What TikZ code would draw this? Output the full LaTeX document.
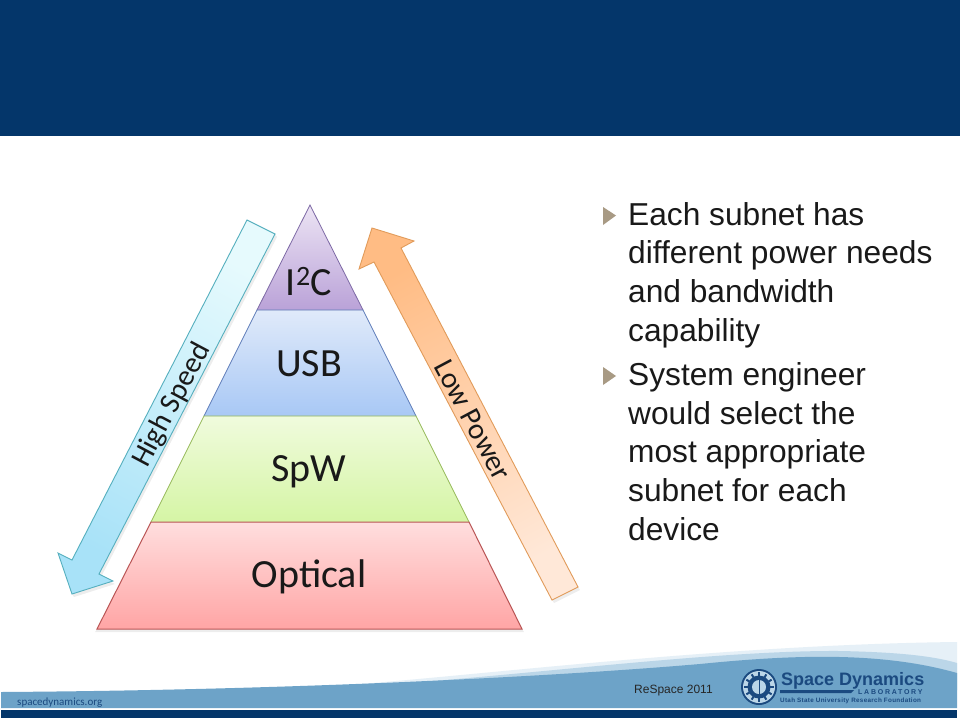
\documentclass[tikz,border=0pt]{standalone}
\usepackage{fontspec}
\setmainfont{Liberation Sans}
\newfontfamily\calib{Carlito}
\definecolor{navy}{HTML}{04366A}
\definecolor{midblue}{HTML}{6DA3C8}
\definecolor{logoblue}{HTML}{1B4A80}
\definecolor{tribull}{HTML}{A89A84}
\definecolor{wavea}{HTML}{E6F0F7}
\definecolor{waveb}{HTML}{BBD6E8}
\definecolor{redtop}{HTML}{FFDEDE}
\definecolor{redbot}{HTML}{FFA5A5}
\definecolor{redline}{HTML}{B95555}
\definecolor{greentop}{HTML}{F0FBDD}
\definecolor{greenbot}{HTML}{D5F5A5}
\definecolor{greenline}{HTML}{96B95A}
\definecolor{bluetop}{HTML}{E0EAFA}
\definecolor{bluebot}{HTML}{A8C8F5}
\definecolor{blueline}{HTML}{5F7DB9}
\definecolor{purptop}{HTML}{ECE4F4}
\definecolor{purpbot}{HTML}{BAA2D8}
\definecolor{purpline}{HTML}{7D69A5}
\definecolor{cyantop}{HTML}{E6FAFD}
\definecolor{cyanbot}{HTML}{A8E2F8}
\definecolor{cyanline}{HTML}{55AFBE}
\definecolor{orangetop}{HTML}{FFBC84}
\definecolor{orangebot}{HTML}{FFE8D8}
\definecolor{orangeline}{HTML}{E19B5A}
\tikzset{
  tierlabel/.style={anchor=base,font=\calib\fontsize{40}{42}\selectfont,text=black!90,inner sep=0pt},
  arrowlabel/.style={font=\calib\fontsize{29.5}{31}\selectfont,text=black!90,inner sep=0pt},
  bullettext/.style={anchor=base west,inner sep=0pt,align=left,text=black!90,
     font=\fontsize{31.7}{38.6}\selectfont},
  bulletmark/.style={fill=tribull,draw=none},
  softshadow/.style={fill=black,opacity=.07,draw=none},
}
\begin{document}
\begin{tikzpicture}[x=1pt,y=-1pt]
\useasboundingbox (0,0) rectangle (960,720);
\fill[white] (0,0) rectangle (960,720);
% header
\fill[navy] (0,0) rectangle (960,136);
% footer waves
\fill[wavea] (280,690) .. controls (450,680) and (700,645) .. (957,642) -- (957,690) -- cycle;
\fill[waveb] (300,690) .. controls (480,682) and (700,650) .. (840,651) .. controls (890,652) and (930,655) .. (957,663) -- (957,690) -- cycle;
\fill[midblue] (1,692) .. controls (300,690) and (560,676) .. (700,664) .. controls (790,655) and (880,651) .. (957,673) -- (957,708) -- (1,708) -- cycle;
\fill[navy] (1,709.5) rectangle (957,718);
% shadows
\fill[softshadow] (97,629) -- (522,629) -- (524,632) -- (95,632) -- cycle;
\fill[softshadow] (275,234) -- (277,237) -- (101,577) -- (115,584) -- (74,597) -- (72,594) -- (113,581) -- (99,574) -- cycle;
\fill[softshadow] (578,587) -- (580,590) -- (554,603) -- (552,600) -- cycle;
% pyramid tiers
\path[top color=redtop, bottom color=redbot] (151,522) -- (469,522) -- (522,629) -- (97,629) -- cycle;
\path[top color=greentop, bottom color=greenbot] (204,416) -- (416,416) -- (469,522) -- (151,522) -- cycle;
\path[top color=bluetop, bottom color=bluebot] (257,310) -- (363,310) -- (416,416) -- (204,416) -- cycle;
\path[top color=purptop, bottom color=purpbot] (310,205) -- (363,310) -- (257,310) -- cycle;
\draw[purpline, line width=.8pt] (257,310) -- (310,205) -- (363,310);
\draw[blueline, line width=.8pt] (204,416) -- (257,310) -- (363,310) -- (416,416);
\draw[greenline, line width=.8pt] (151,522) -- (204,416) -- (416,416) -- (469,522);
\draw[redline, line width=1pt] (151,522) -- (469,522) -- (522,629) -- (97,629) -- cycle;
% arrows
\path[draw=cyanline, line width=.9pt, top color=cyantop, bottom color=cyanbot, shading angle=-28]
  (247,220) -- (275,234) -- (99,574) -- (113,581) -- (72,594) -- (58,553) -- (72,560) -- cycle;
\path[draw=orangeline, line width=.9pt, top color=orangetop, bottom color=orangebot, shading angle=28]
  (372,228) -- (414,241) -- (401,248) -- (578,587) -- (552,600) -- (374,262) -- (359,269) -- cycle;
% labels
\node[tierlabel] (i2c) at (309,295) {I\textsuperscript{2}C};
\node[tierlabel] (usb) at (309,376) {USB};
\node[tierlabel] (spw) at (309,481) {SpW};
\node[tierlabel] (opt) at (309,587) {Optical};
\node[arrowlabel,rotate=62] (hs) at (172,405) {High Speed};
\node[arrowlabel,rotate=-62] (lp) at (473,420) {Low Power};
% bullets
\fill[bulletmark] (603,207) -- (616,215.5) -- (603,225) -- cycle;
\fill[bulletmark] (603,367) -- (616,376) -- (603,385) -- cycle;
\node[bullettext] (b1) at (628,341) {Each subnet has\\different power needs\\and bandwidth\\capability};
\node[bullettext] (b2) at (628,540) {System engineer\\would select the\\most appropriate\\subnet for each\\device};
% footer text
\node[anchor=base west,inner sep=0pt,text=logoblue,font=\calib\fontsize{11}{13}\selectfont] (web) at (17,705) {spacedynamics.org};
\node[anchor=base west,inner sep=0pt,text=black!85,font=\fontsize{12}{13}\selectfont] (conf) at (634,693) {ReSpace 2011};
% logo
\fill[logoblue] (759,687) circle (18);
\fill[waveb] (759,687) circle (16);
\fill[logoblue] (759,687) circle (11.5);
\foreach \a in {0,30,...,330}{\draw[logoblue,line width=2pt] (759,687) ++(\a:11) -- ++(\a:3.6);}
\fill[waveb] (759,687) circle (7);
\draw[logoblue,line width=1pt] (759,678) -- (759,696);
\node[anchor=base west,inner sep=0pt,text=logoblue,font=\bfseries\fontsize{18}{20}\selectfont] (sd) at (781,685) {Space Dynamics};
\fill[logoblue] (780,690) -- (854,690) -- (851,693) -- (780,693) -- cycle;
\node[anchor=base west,inner sep=0pt,text=logoblue,font=\bfseries\fontsize{7}{8}\selectfont\addfontfeatures{LetterSpace=25}] (lab) at (858,694) {LABORATORY};
\node[anchor=base west,inner sep=0pt,text=logoblue,font=\bfseries\fontsize{6.3}{7}\selectfont\addfontfeatures{LetterSpace=5}] (utah) at (780,702) {Utah State University Research Foundation};
\end{tikzpicture}
\end{document}
